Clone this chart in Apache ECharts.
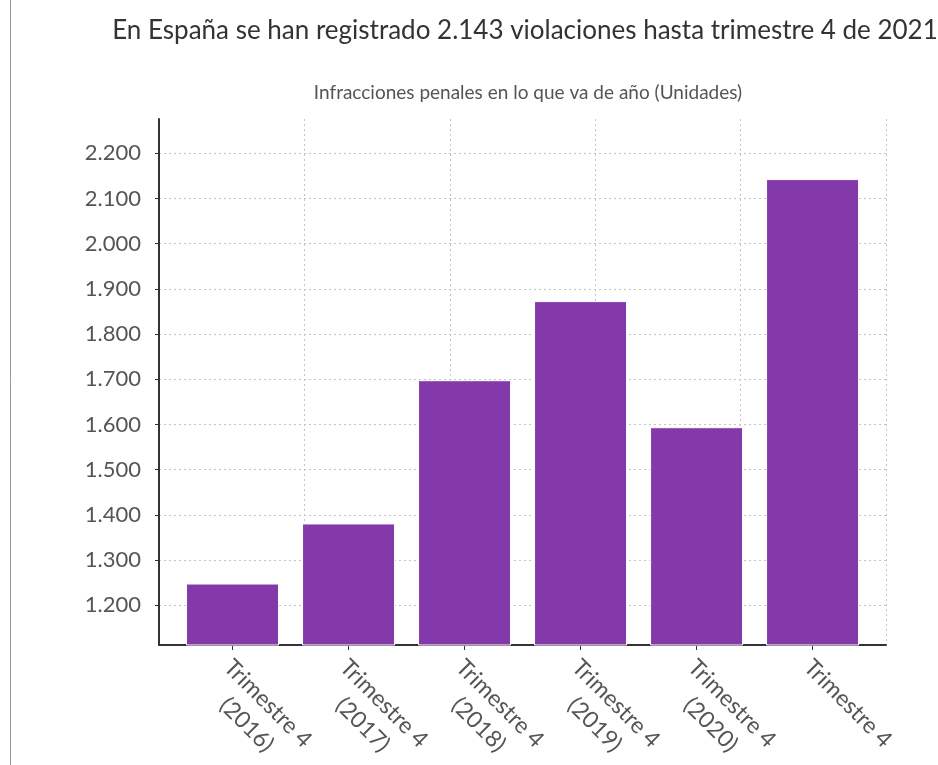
<!DOCTYPE html>
<html>
<head>
<meta charset="utf-8">
<script src="https://cdn.jsdelivr.net/npm/echarts@6/dist/echarts.min.js"></script>
<style>
  html, body { margin: 0; padding: 0; background: #fff; }
  #container { width: 938px; height: 765px; }
</style>
</head>
<body>
<div id="container"></div>
<script>
// datos
var titulo = 'En España se han registrado 2.143 violaciones hasta trimestre 4 de 2021';
var subtitulo = 'Infracciones penales en lo que va de año (Unidades)';
var categorias = [
    ['Trimestre 4', '(2016)'],
    ['Trimestre 4', '(2017)'],
    ['Trimestre 4', '(2018)'],
    ['Trimestre 4', '(2019)'],
    ['Trimestre 4', '(2020)'],
    ['Trimestre 4']
];
var valores = [1248, 1381, 1698, 1873, 1594, 2143];
var yTicks = [1200, 1300, 1400, 1500, 1600, 1700, 1800, 1900, 2000, 2100, 2200];

(function(){
    var dom = document.getElementById('container');
    var myChart = echarts.init(dom);

    var fuente = 'Lato';
    var labelSize = 23;

    // ancho de la linea mas larga para centrar la segunda linea debajo
    var ctx = document.createElement('canvas').getContext('2d');
    ctx.font = labelSize + 'px ' + fuente;
    var anchoLinea = 0;
    for (var i = 0; i < categorias.length; i++) {
        for (var j = 0; j < categorias[i].length; j++) {
            anchoLinea = Math.max(anchoLinea, ctx.measureText(categorias[i][j]).width);
        }
    }
    anchoLinea = Math.ceil(anchoLinea);

    var indices = categorias.map(function(c, i){ return i; });
    var datos = valores.map(function(v, i){ return [i, v]; });

    function miles(v) {
        return String(v).replace(/\B(?=(\d{3})+(?!\d))/g, '.');
    }

    var rejilla = { show: true, lineStyle: { color: '#c4c4c4', type: [2, 3], width: 1 } };

    var option = {
        textStyle: { fontFamily: fuente },
        animation: false,
        title: [
            {
                text: titulo,
                left: 520,
                top: 13,
                textAlign: 'center',
                textStyle: { fontSize: 26, fontWeight: 'normal', color: '#333', fontFamily: fuente }
            },
            {
                text: subtitulo,
                left: 523,
                top: 78,
                textAlign: 'center',
                textStyle: { fontSize: 19, fontWeight: 'normal', color: '#555', fontFamily: fuente }
            }
        ],
        graphic: [
            {
                type: 'line',
                shape: { x1: 10.5, y1: 0, x2: 10.5, y2: 765 },
                style: { stroke: '#999', lineWidth: 1 }
            }
        ],
        grid: { left: 159, right: 52, top: 119, bottom: 120, containLabel: false, outerBoundsMode: 'none' },
        xAxis: [
            {
                type: 'value',
                min: -0.634,
                max: 5.633,
                axisLine: { show: true, onZero: false, lineStyle: { color: '#333', width: 2 } },
                axisTick: { show: true, length: 5, customValues: indices, lineStyle: { color: '#333' } },
                axisLabel: {
                    customValues: indices,
                    rotate: -45,
                    align: 'left',
                    verticalAlign: 'top',
                    margin: 2,
                    formatter: function(v){
                        var lineas = categorias[Math.round(v)] || [];
                        return lineas.map(function(l){ return '{a|' + l + '}'; }).join('\n');
                    },
                    rich: {
                        a: {
                            width: anchoLinea,
                            align: 'center',
                            padding: [0, 0, 0, 8],
                            fontSize: labelSize,
                            lineHeight: 30,
                            color: '#555',
                            fontFamily: fuente
                        }
                    }
                },
                splitLine: { show: false }
            },
            {
                type: 'value',
                min: 0,
                max: 5,
                interval: 1,
                axisLine: { show: false },
                axisTick: { show: false },
                axisLabel: { show: false },
                splitLine: rejilla
            }
        ],
        yAxis: {
            type: 'value',
            min: 1112,
            max: 2276,
            axisLine: { show: true, onZero: false, lineStyle: { color: '#333', width: 2 } },
            axisTick: { show: true, length: 4, customValues: yTicks, lineStyle: { color: '#333' } },
            axisLabel: {
                customValues: yTicks,
                margin: 18,
                fontSize: 22,
                color: '#555',
                formatter: miles
            },
            splitLine: rejilla
        },
        series: [
            {
                type: 'bar',
                xAxisIndex: 0,
                yAxisIndex: 0,
                barWidth: 93,
                data: datos,
                itemStyle: { color: '#8439ab', borderColor: '#fff', borderWidth: 1 }
            }
        ]
    };

    myChart.setOption(option);
}());
</script>
</body>
</html>
